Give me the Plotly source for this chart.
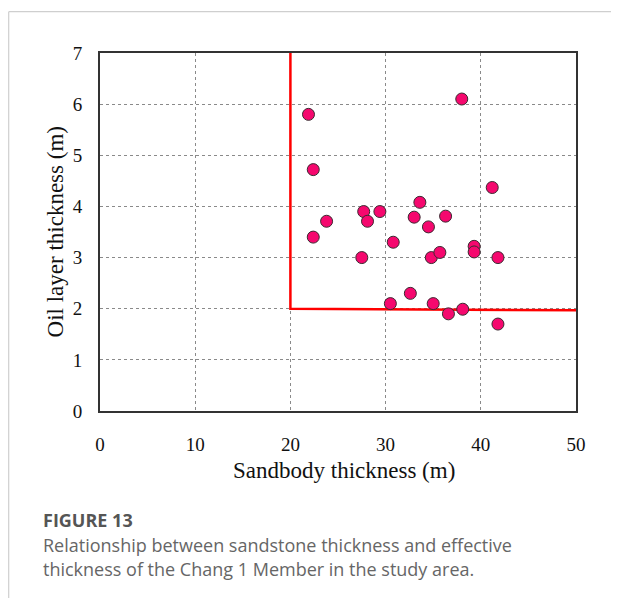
import plotly.graph_objects as go

# Data
sand_thickness = [38.0, 21.9, 22.4, 41.2, 33.6, 27.7, 29.4, 23.8, 28.1, 33.0, 34.5, 36.3,
                  22.4, 30.8, 27.5, 34.8, 35.7, 39.3, 39.3, 41.8, 32.6, 30.5, 35.0, 36.6,
                  38.1, 41.8]
oil_thickness = [6.1, 5.8, 4.72, 4.37, 4.08, 3.9, 3.9, 3.71, 3.71, 3.79, 3.6, 3.81,
                 3.4, 3.3, 3.0, 3.0, 3.1, 3.22, 3.11, 3.0, 2.3, 2.1, 2.1, 1.9,
                 1.99, 1.7]
cutoff_x = [20, 20, 50]
cutoff_y = [7, 2, 1.97]
x_ticks = [0, 10, 20, 30, 40, 50]
y_ticks = [0, 1, 2, 3, 4, 5, 6, 7]

OFF = 8  # page body margin
W, H = 619 - OFF, 598 - OFF
# plot area in page coordinates
L, R, T, B = 99.5, 576.5, 53.3, 411.0

def px(x):
    return (x - L) / (R - L)

def py(y):
    return (B - y) / (B - T)

fig = go.Figure()
fig.add_trace(go.Scatter(x=cutoff_x, y=cutoff_y, mode="lines",
                         line=dict(color="#FF0000", width=2.5),
                         hoverinfo="skip", showlegend=False, cliponaxis=False))
fig.add_trace(go.Scatter(x=sand_thickness, y=oil_thickness, mode="markers",
                         marker=dict(size=12, color="#F5086E",
                                     line=dict(color="#3a2a30", width=1)),
                         showlegend=False, cliponaxis=False))

serif = "Liberation Serif, Times New Roman, serif"
axis_common = dict(showline=True, linecolor="#333333", linewidth=2, mirror=True,
                   showgrid=True, gridcolor="#8a8a8a", gridwidth=1, griddash="dot",
                   zeroline=False, ticks="", tickfont=dict(family=serif, size=19, color="#111"))

fig.update_layout(
    width=W, height=H,
    margin=dict(l=L - OFF, r=619 - R, t=T - OFF, b=598 - B, autoexpand=False),
    paper_bgcolor="white", plot_bgcolor="white",
    xaxis=dict(range=[0, 50], tickvals=x_ticks, ticklabelstandoff=15, **axis_common),
    yaxis=dict(range=[0, 7], tickvals=y_ticks, ticklabelstandoff=12, **axis_common),
    font=dict(family=serif),
)

annotations = [
    dict(text="Sandbody thickness (m)", x=px(344), y=py(470), xref="paper", yref="paper",
         showarrow=False, xanchor="center", yanchor="middle",
         font=dict(family=serif, size=23, color="#111")),
    dict(text="Oil layer thickness (m)", x=px(55), y=py(232), xref="paper", yref="paper",
         showarrow=False, xanchor="center", yanchor="middle", textangle=-90,
         font=dict(family=serif, size=23, color="#111")),
    dict(text="<b>FIGURE 13</b>", x=px(40), y=py(520), xref="paper", yref="paper",
         showarrow=False, xanchor="left", yanchor="middle",
         font=dict(family="Open Sans, sans-serif", size=18, color="#555555")),
    dict(text="Relationship between sandstone thickness and effective", x=px(40), y=py(545),
         xref="paper", yref="paper", showarrow=False, xanchor="left", yanchor="middle",
         font=dict(family="Open Sans, sans-serif", size=18, color="#666666")),
    dict(text="thickness of the Chang 1 Member in the study area.", x=px(40), y=py(569),
         xref="paper", yref="paper", showarrow=False, xanchor="left", yanchor="middle",
         font=dict(family="Open Sans, sans-serif", size=18, color="#666666")),
]
fig.update_layout(annotations=annotations)

fig.add_shape(type="line", xref="paper", yref="paper", x0=px(8), x1=px(619), y0=py(12), y1=py(12),
              line=dict(color="#cfcfcf", width=1.2))
fig.add_shape(type="line", xref="paper", yref="paper", x0=px(8), x1=px(8), y0=py(12), y1=py(598),
              line=dict(color="#cfcfcf", width=1.2))

fig.write_html("out.html")
